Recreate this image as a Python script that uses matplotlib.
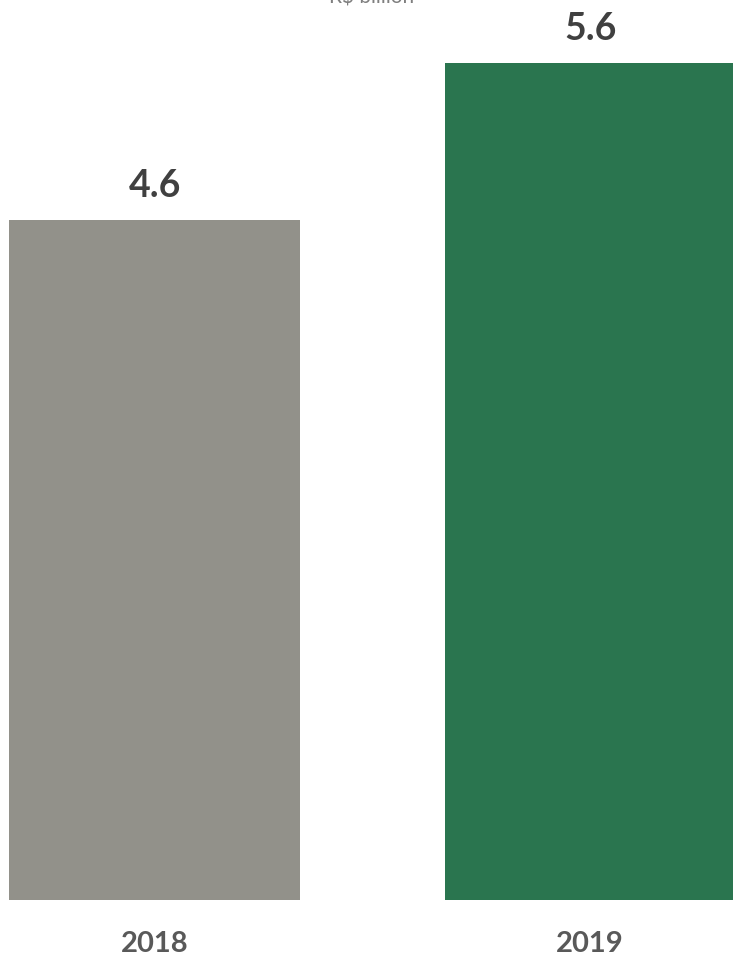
import matplotlib
matplotlib.use('Agg')
import matplotlib.pyplot as plt

years = ['2018', '2019']
values = [4.56, 5.61]
value_labels = ['4.6', '5.6']
bar_colors = ['#92918A', '#2A754F']

plt.rcParams['font.family'] = ['Lato', 'DejaVu Sans']

fig = plt.figure(figsize=(7.33, 9.56), dpi=100)
ax = fig.add_axes([0, 0, 1, 1])

x = range(len(years))
bars = ax.bar(x, values, width=0.668, color=bar_colors)

# value labels above bars
for b, lab in zip(bars, value_labels):
    ax.annotate(lab, (b.get_x() + b.get_width() / 2, b.get_height()),
                xytext=(0, 12), textcoords='offset points',
                ha='center', va='bottom', fontsize=27, fontweight='bold',
                color='#404040')

# year labels below bars
for xi, yr in zip(x, years):
    ax.annotate(yr, (xi, 0), xytext=(0, -22), textcoords='offset points',
                ha='center', va='top', fontsize=21, fontweight='bold',
                color='#595959')

ax.set_xlim(-0.355, 1.328)
ax.set_ylim(-0.375, 6.032)
ax.axis('off')

fig.text(372 / 733, 1 - 3 / 956, 'R$ billion', ha='center', va='baseline',
         fontsize=15, color='#7F7F7F')

fig.savefig('out.png', dpi=100)
